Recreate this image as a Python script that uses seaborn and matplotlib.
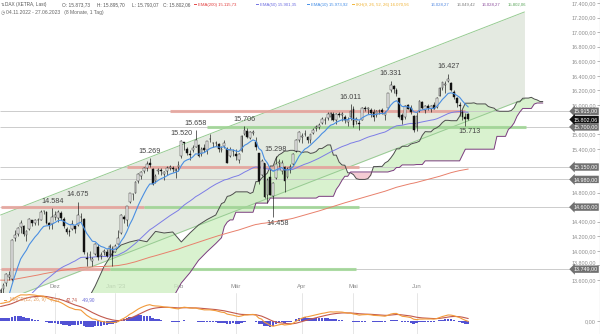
import numpy as np
import pandas as pd
import matplotlib
matplotlib.use("Agg")
import matplotlib.pyplot as plt
import matplotlib.transforms as mtrans
import seaborn as sns

# ---------------- data ----------------
first_day = "2022-11-04"
last_day = "2023-06-27"
exchange_holidays = ["2022-12-26", "2023-04-07", "2023-04-10", "2023-05-01"]

opens = [13180, 13480, 13560, 13640, 13620, 14170, 14230, 14330, 14340, 14220,
         14300, 14420, 14380, 14420, 14430, 14550, 14530, 14380, 14370, 14470,
         14450, 14520, 14440, 14300, 14270, 14300, 14340, 14350, 14470, 14440,
         13900, 13950, 13860, 13960, 14050, 13930, 13990, 13990, 13950, 14030,
         13990, 14100, 14250, 14470, 14430, 14670, 14780, 14800, 14960, 15030,
         15100, 15140, 15200, 15120, 14960, 15090, 15110, 15060, 15100, 15140,
         15130, 15100, 15150, 15300, 15490, 15400, 15330, 15390, 15430, 15450,
         15330, 15410, 15380, 15540, 15480, 15480, 15460, 15390, 15440, 15400,
         15300, 15370, 15330, 15250, 15370, 15600, 15650, 15550, 15620, 15500,
         15340, 15040, 15200, 14760, 15010, 14750, 15000, 15200, 15100, 15150,
         15010, 15140, 15190, 15370, 15520, 15560, 15600, 15560, 15520, 15620,
         15680, 15700, 15760, 15800, 15820, 15830, 15880, 15790, 15880, 15860,
         15840, 15770, 15830, 15950, 15780, 15760, 15800, 15960, 15950, 15930,
         15900, 15860, 15920, 15930, 15870, 15960, 16200, 16260, 16210, 16100,
         15860, 15830, 16000, 15960, 15850, 15700, 15920, 16040, 15930, 15990,
         15940, 16000, 15970, 16130, 16240, 16280, 16330, 16300, 16180, 16090,
         16000, 15900, 15830, 15873.73]
highs = [13490, 13560, 13700, 13720, 14160, 14290, 14330, 14430, 14350, 14280,
         14450, 14430, 14440, 14450, 14560, 14560, 14540, 14400, 14584, 14540,
         14560, 14540, 14460, 14330, 14300, 14420, 14360, 14675, 14520, 14450,
         13990, 14000, 13920, 14110, 14090, 13980, 14030, 14020, 14090, 14060,
         14100, 14280, 14500, 14490, 14620, 14800, 14800, 14960, 15070, 15090,
         15150, 15230, 15269, 15130, 15060, 15130, 15140, 15100, 15160, 15180,
         15170, 15140, 15230, 15520, 15500, 15420, 15380, 15450, 15658, 15470,
         15420, 15470, 15510, 15600, 15500, 15510, 15480, 15440, 15520, 15420,
         15420, 15400, 15400, 15340, 15590, 15706, 15690, 15640, 15660, 15560,
         15340, 15260, 15210, 15000, 15130, 14940, 15298, 15260, 15250, 15160,
         15150, 15190, 15340, 15530, 15650, 15610, 15660, 15580, 15600, 15680,
         15730, 15750, 15830, 15830, 15900, 15900, 15900, 15890, 15900, 15910,
         15860, 15830, 16011, 15990, 15830, 15800, 15980, 15990, 15980, 15960,
         15940, 15930, 15950, 15960, 15920, 16170, 16331, 16280, 16240, 16100,
         15890, 16000, 16020, 16000, 15860, 15900, 16070, 16050, 16000, 16010,
         16000, 16040, 16110, 16250, 16320, 16330, 16427, 16320, 16200, 16110,
         16040, 15930, 15890, 15895.70]
lows = [13130, 13400, 13520, 13600, 13580, 14140, 14200, 14250, 14200, 14130,
        14290, 14340, 14360, 14350, 14420, 14500, 14370, 14300, 14300, 14420,
        14400, 14420, 14310, 14230, 14200, 14290, 14250, 14340, 14400, 13960,
        13790, 13890, 13790, 13950, 13870, 13890, 13940, 13910, 13920, 13790,
        13980, 14090, 14230, 14380, 14340, 14660, 14700, 14790, 14930, 14990,
        15070, 15100, 15150, 14910, 14930, 15050, 15040, 14970, 15040, 15110,
        15080, 15000, 15100, 15280, 15380, 15310, 15250, 15360, 15420, 15290,
        15300, 15350, 15330, 15500, 15420, 15440, 15350, 15360, 15410, 15200,
        15290, 15300, 15250, 15200, 15360, 15590, 15550, 15530, 15590, 15380,
        14920, 15030, 14730, 14650, 14760, 14458, 14990, 15150, 15050, 14810,
        15000, 15070, 15180, 15360, 15500, 15480, 15570, 15480, 15480, 15600,
        15650, 15670, 15740, 15740, 15800, 15800, 15780, 15740, 15830, 15780,
        15750, 15710, 15800, 15700, 15740, 15660, 15790, 15920, 15880, 15840,
        15780, 15830, 15880, 15880, 15800, 15950, 16180, 16170, 16120, 15820,
        15740, 15810, 15940, 15880, 15629, 15650, 15910, 15940, 15890, 15930,
        15900, 15940, 15960, 16120, 16200, 16160, 16320, 16190, 16080, 15980,
        15850, 15800, 15713, 15790.07]
closes = [13459, 13533, 13689, 13666, 14146, 14224, 14313, 14378, 14234, 14267,
          14431, 14380, 14422, 14427, 14539, 14541, 14383, 14355, 14460, 14490,
          14529, 14447, 14343, 14261, 14264, 14371, 14306, 14497, 14460, 13986,
          13893, 13943, 13884, 14098, 13914, 13941, 13995, 13926, 14071, 13924,
          14069, 14181, 14490, 14436, 14610, 14792, 14774, 14948, 15058, 15086,
          15134, 15187, 15181, 14920, 15033, 15103, 15093, 15081, 15132, 15150,
          15126, 15128, 15181, 15509, 15476, 15345, 15320, 15412, 15523, 15307,
          15397, 15380, 15506, 15534, 15482, 15477, 15399, 15400, 15475, 15210,
          15382, 15365, 15305, 15327, 15578, 15654, 15559, 15631, 15633, 15428,
          14959, 15232, 14735, 14967, 14768, 14933, 15195, 15216, 15210, 14957,
          15128, 15142, 15329, 15522, 15628, 15581, 15603, 15520, 15597, 15655,
          15703, 15729, 15808, 15790, 15883, 15896, 15796, 15882, 15864, 15872,
          15796, 15800, 15922, 15727, 15815, 15734, 15961, 15952, 15955, 15897,
          15834, 15914, 15918, 15898, 15897, 16163, 16275, 16223, 16153, 15842,
          15794, 15984, 15952, 15909, 15664, 15853, 16051, 15963, 15993, 15960,
          15990, 15949, 16098, 16230, 16311, 16290, 16358, 16201, 16111, 16023,
          15988, 15830, 15813, 15802.06]

# indicator start values (day before the first bar)
ema10_start = 13150
ema50_start = 13000
ema200_start = 13600
ema12_start = 13100
ema26_start = 12800
signal_start = 240

# Ichimoku spans on the left where the history is not in the chart (read off)
early_cloud_idx = [30, 33, 36, 39, 42, 45, 48, 51, 54, 57, 60, 63, 66, 69, 72, 75]
span_a_early = [13300, 13520, 13780, 13970, 14080, 14122, 14149, 14125, 14267,
                14245, 14259, 14122, 14245, 14355, 14430, 14492]
span_b_early = [12900, 12950, 13000, 13050, 13100, 13150, 13200, 13250, 13280,
                13300, 13350, 13560, 13700, 13870, 13990, 14100]

# trend channel (bar index, price)
channel_idx = [0, 182.6]
channel_upper = [14492, 17277]
channel_lower = [13299, 16083]

# horizontal levels with their price tags
tag_levels = [15915, 15700, 15150, 14980, 14600, 13749]
zone_level = [15915, 15700, 15150, 14600, 14600, 13749, 13749]
zone_kind = ["R", "G", "R", "R", "G", "R", "G"]
zone_from = [59, 72, 44, 0, 50, 0, 38]
zone_to = [162, 183, 125, 50, 125, 38, 124]

# marked highs / lows
extreme_idx = [18, 27, 52, 63, 68, 85, 96, 95, 122, 136, 156, 162]
extreme_kind = ["H", "H", "H", "H", "H", "H", "H", "L", "H", "H", "H", "L"]

month_firsts = ["2022-12-01", "2023-01-02", "2023-02-01", "2023-03-01",
                "2023-04-03", "2023-05-02", "2023-06-01"]
month_labels = ["Dez", "Jan '23", "Feb", "Mär", "Apr", "Mai", "Jun"]

# price-axis labels hidden behind the price tags in the reference
hidden_ticks = [15800, 15200, 15000, 14600]

# legend texts as printed in the chart
ohlc_text = ["O: 15.873,73", "H: 15.895,70", "L: 15.790,07", "C: 15.802,06"]
ema_legend = ["EMA(200) 15.115,73", "EMA(50) 15.901,35", "EMA(10) 15.973,92",
              "IKH(9, 26, 52, 26) 16.070,56"]
ikh_values = ["16.028,27", "16.049,42", "16.028,27", "15.802,06"]
macd_values = ["-7,17", "42,74", "-49,90"]


# ---------------- helpers ----------------
def de(v, dec=2):
    s = f"{v:,.{dec}f}"
    return s.replace(",", "#").replace(".", ",").replace("#", ".")


def ema(values, span, start):
    s = pd.Series([start] + list(values), dtype=float)
    return s.ewm(span=span, adjust=False).mean().iloc[1:].to_numpy()


O = np.array(opens, float)
Hh = np.array(highs, float)
Ll = np.array(lows, float)
C = np.array(closes, float)
n = len(C)
idx = np.arange(n)

dates = pd.bdate_range(first_day, last_day)
dates = dates[~dates.isin(pd.to_datetime(exchange_holidays))]
month_idx = [int(np.searchsorted(dates.values, np.datetime64(d))) for d in month_firsts]

ema10 = ema(C, 10, ema10_start)
ema50 = ema(C, 50, ema50_start)
ema200 = ema(C, 200, ema200_start)
macd = ema(C, 12, ema12_start) - ema(C, 26, ema26_start)
signal = ema(macd, 9, signal_start)
hist = macd - signal

Hs, Ls = pd.Series(Hh), pd.Series(Ll)
tenkan = (Hs.rolling(9).max() + Ls.rolling(9).min()) / 2
kijun = (Hs.rolling(26).max() + Ls.rolling(26).min()) / 2
span_a_calc = ((tenkan + kijun) / 2).to_numpy()
span_b_calc = ((Hs.rolling(52).max() + Ls.rolling(52).min()) / 2).to_numpy()
calc_from = 51
cloud_x = np.array(early_cloud_idx + list(range(calc_from + 26, n + 26)), float)
cloud_a = np.array(span_a_early + list(span_a_calc[calc_from:]), float)
cloud_b = np.array(span_b_early + list(span_b_calc[calc_from:]), float)

# ---------------- figure ----------------
sns.set_theme(style="white")
plt.rcParams["font.family"] = ["Liberation Sans", "DejaVu Sans"]

W, Hpx = 600, 334
fig = plt.figure(figsize=(W / 100, Hpx / 100), dpi=100)
sep = 293
ax = fig.add_axes([0, 1 - sep / Hpx, 1, sep / Hpx])
ax2 = fig.add_axes([0, 0, 1, (Hpx - sep) / Hpx])

px_per_bar = 2.869
x0 = -0.2
x1 = x0 + W / px_per_bar
ax.set_xlim(x0, x1)
ax2.set_xlim(x0, x1)
ax.set_ylim(13422, 17441)

# channel
ax.fill_between(channel_idx, channel_lower, channel_upper, color="#e4eae1", lw=0, zorder=1)
ax.plot(channel_idx, channel_upper, color="#97cb92", lw=0.7, zorder=3)
ax.plot(channel_idx, channel_lower, color="#97cb92", lw=0.7, zorder=3)

# cloud
ax.fill_between(cloud_x, cloud_a, cloud_b, where=cloud_a >= cloud_b, interpolate=True,
                color="#cdeec0", alpha=0.75, lw=0, zorder=2)
ax.fill_between(cloud_x, cloud_a, cloud_b, where=cloud_a < cloud_b, interpolate=True,
                color="#f3c6cf", alpha=0.9, lw=0, zorder=2)
sns.lineplot(x=cloud_x, y=cloud_a, ax=ax, color="#4d4d4d", lw=0.7, zorder=4, estimator=None)
sns.lineplot(x=cloud_x, y=cloud_b, ax=ax, color="#7a3c7e", lw=0.7, zorder=4, estimator=None)

# levels
ax.hlines(tag_levels, x0, 570 / px_per_bar + x0, color="#c4c4c4", lw=0.6, zorder=2.5)
for lv, k, a, b in zip(zone_level, zone_kind, zone_from, zone_to):
    col = "#e6a39b" if k == "R" else "#9fd594"
    ax.hlines(lv, a, b, color=col, lw=2.2, alpha=0.85, zorder=3)

# EMAs
sns.lineplot(x=idx, y=ema200, ax=ax, color="#e8806c", lw=0.7, zorder=4.5, estimator=None)
sns.lineplot(x=idx, y=ema50, ax=ax, color="#7c7ce6", lw=0.7, zorder=4.5, estimator=None)

# candles
up = C >= O
ax.vlines(idx, Ll, Hh, color="#111111", lw=0.45, zorder=5)
body = np.maximum(np.abs(C - O), 4)
ax.bar(idx, body, bottom=np.minimum(O, C), width=0.62,
       color=np.where(up, "white", "#111111"), edgecolor="#111111", linewidth=0.3, zorder=6)

sns.lineplot(x=idx, y=ema10, ax=ax, color="#4a8fe2", lw=0.8, zorder=7, estimator=None)

# extreme labels
for i, k in zip(extreme_idx, extreme_kind):
    if k == "H":
        ax.annotate(de(Hh[i], 0), (i, Hh[i]), xytext=(0, 2.5), textcoords="offset points",
                    ha="center", va="bottom", fontsize=5.2, color="#444444", zorder=8)
    else:
        ax.annotate(de(Ll[i], 0), (i, Ll[i]), xytext=(3, -1.5), textcoords="offset points",
                    ha="center", va="top", fontsize=5.2, color="#444444", zorder=8)

# axes cosmetics (main)
yt = [v for v in range(13600, 17401, 200) if v not in hidden_ticks]
ax.set_yticks(yt)
ax.set_yticklabels([de(v) for v in yt])
ax.yaxis.set_ticks_position("right")
ax.tick_params(axis="y", direction="in", length=2, width=0.5, color="#999999",
               pad=-3, labelsize=3.9, labelcolor="#8c8c8c")
for t in ax.get_yticklabels():
    t.set_horizontalalignment("right")
    if t.get_text() == de(13800):
        t.set_verticalalignment("bottom")
ax.set_xticks(month_idx)
ax.set_xticklabels(month_labels)
ax.tick_params(axis="x", direction="in", length=0, pad=-6.2, labelsize=4.3, labelcolor="#8c8c8c")
for s in ["top", "left"]:
    ax.spines[s].set_visible(False)
ax.spines["bottom"].set_color("#b4b4b4")
ax.spines["bottom"].set_linewidth(0.6)
ax.spines["right"].set_color("#9a9a9a")
ax.spines["right"].set_linewidth(0.8)
ax.set_xlabel("")
ax.set_ylabel("")

# price tags
blend = mtrans.blended_transform_factory(ax.transAxes, ax.transData)
for lv in tag_levels:
    ax.text(0.996, lv, de(lv), transform=blend, ha="right", va="center", fontsize=3.9,
            color="white", zorder=20,
            bbox=dict(boxstyle="larrow,pad=0.22", fc="#707070", ec="none"))
ax.text(0.996, C[-1], de(C[-1]), transform=blend, ha="right", va="center", fontsize=3.9,
        color="white", zorder=21,
        bbox=dict(boxstyle="larrow,pad=0.22", fc="#111111", ec="none"))

# MACD panel
kscale = 17.5
ax2.set_ylim(-kscale * 13, kscale * 28)
ax2.bar(idx, hist, width=0.85, color="#5252d4", lw=0, zorder=2)
sns.lineplot(x=idx, y=signal, ax=ax2, color="#c25a4e", lw=0.8, zorder=3, estimator=None)
sns.lineplot(x=idx, y=macd, ax=ax2, color="#f29a3a", lw=0.8, zorder=4, estimator=None)
ax2.set_xticks(month_idx)
ax2.set_xticklabels([])
ax2.grid(axis="x", color="#e2e2e2", lw=0.6)
ax2.grid(axis="y", visible=False)
ax2.set_yticks([0])
ax2.set_yticklabels([de(0)])
ax2.yaxis.set_ticks_position("right")
ax2.tick_params(axis="y", direction="in", length=2, width=0.5, color="#999999",
                pad=-3, labelsize=3.9, labelcolor="#8c8c8c")
ax2.tick_params(axis="x", length=0)
for t in ax2.get_yticklabels():
    t.set_horizontalalignment("right")
for s in ["top", "left", "bottom"]:
    ax2.spines[s].set_visible(False)
ax2.spines["right"].set_color("#9a9a9a")
ax2.spines["right"].set_linewidth(0.8)
ax2.set_xlabel("")
ax2.set_ylabel("")

# ---------------- header / legend texts ----------------
def fx(px):
    return px / W


def fy(py):
    return 1 - py / Hpx


renderer = fig.canvas.get_renderer()


def flow(x_px, y_px, parts, size, gap=3.0):
    x = x_px
    for txt, col in parts:
        t = fig.text(fx(x), fy(y_px), txt, fontsize=size, color=col, va="center")
        x += t.get_window_extent(renderer=renderer).width + gap
    return x


hdr = 3.4
leg = 3.05
fig.text(fx(0.5), fy(4.6), "⇅", fontsize=3.2, color="#666666", va="center")
fig.text(fx(5), fy(4.6), "DAX (XETRA, Last)", fontsize=hdr, color="#555555", va="center")
for xp, txt in zip([62, 97, 132, 163], ohlc_text):
    fig.text(fx(xp), fy(4.6), txt, fontsize=hdr, color="#555555", va="center")

ema_cols = ["#e23c3c", "#6b6be0", "#3d8ae6", "#efb02e"]
for xp, txt, col in zip([194, 256, 307, 352], ema_legend, ema_cols):
    fig.text(fx(xp), fy(4.4), "▬", fontsize=2.2, color=col, va="center")
    fig.text(fx(xp + 4.2), fy(4.6), txt, fontsize=leg, color=col, va="center")
for xp, txt, col in zip([431, 457, 482, 508], ikh_values,
                        ["#4f86e0", "#7a7a7a", "#8a4a9a", "#5aa55a"]):
    fig.text(fx(xp), fy(4.6), txt, fontsize=leg, color=col, va="center")

fig.text(fx(0.5), fy(12.6), "◷", fontsize=3.4, color="#777777", va="center")
fig.text(fx(6), fy(12.6), "04.11.2022 - 27.06.2023   (8 Monate, 1 Tag)",
         fontsize=3.6, color="#666666", va="center")

fig.text(fx(3.5), fy(299.6), "▬", fontsize=2.2, color="#f29a3a", va="center")
flow(10, 300, [("MACD(12, 26, 9)", "#e39a5a"), (macd_values[0], "#e39a5a"),
               (macd_values[1], "#c25a4e"), (macd_values[2], "#6a6ad6")], 3.4, gap=4.5)

fig.savefig("out.png", dpi=100)
